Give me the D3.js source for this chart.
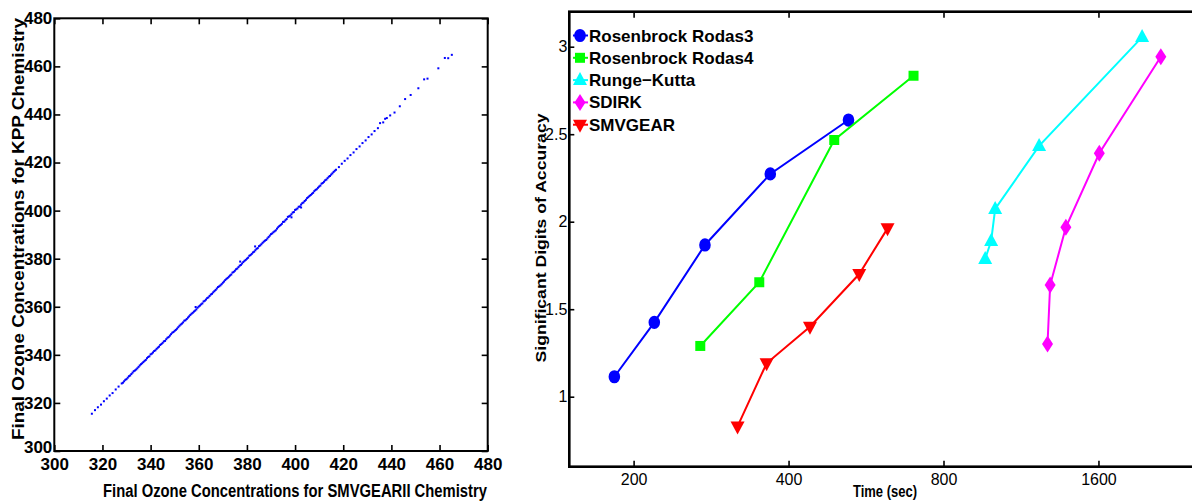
<!DOCTYPE html>
<html>
<head>
<meta charset="utf-8">
<script src="https://cdn.jsdelivr.net/npm/d3@7"></script>
<style>
  body { margin: 0; background: #fff; }
  svg { display: block; }
  .narrow { font-family: "Liberation Sans Narrow", "Arial Narrow", "Liberation Sans", Arial, sans-serif; }
  .wide { font-family: "Liberation Sans", Arial, Helvetica, sans-serif; }
</style>
</head>
<body>
<svg id="chart" width="1192" height="501"></svg>
<script>
// ---- left panel: final ozone, SMVGEARII vs KPP ----
const ozoneTicks = [300, 320, 340, 360, 380, 400, 420, 440, 460, 480];

const smvgearO3 = [
  315.6, 316.9, 318.1, 319.4, 320.6, 321.8, 323.0, 324.2, 325.5, 326.7,
  328, 329, 330, 331, 332, 333, 334, 335, 336, 337,
  338, 339, 340, 341, 342, 343, 344, 345, 346, 347,
  348, 349, 350, 351, 352, 353, 354, 355, 356, 357,
  358, 359, 360, 361, 362, 363, 364, 365, 366, 367,
  368, 369, 370, 371, 372, 373, 374, 375, 376, 377,
  378, 379, 380, 381, 382, 383, 384, 385, 386, 387,
  388, 389, 390, 391, 392, 393, 394, 395, 396, 397,
  398, 399, 400, 401, 402, 403, 404, 405, 406, 407,
  408, 409, 410, 411, 412, 413, 414, 415, 416, 417,
  328.5, 329.5, 330.5, 331.5, 332.5, 333.5, 334.5, 335.5, 336.5, 337.5,
  338.5, 339.5, 340.5, 341.5, 342.5, 343.5, 344.5, 345.5, 346.5, 347.5,
  348.5, 349.5, 350.5, 351.5, 352.5, 353.5, 354.5, 355.5, 356.5, 357.5,
  358.5, 359.5, 360.5, 361.5, 362.5, 363.5, 364.5, 365.5, 366.5, 367.5,
  368.5, 369.5, 370.5, 371.5, 372.5, 373.5, 374.5, 375.5, 376.5, 377.5,
  378.5, 379.5, 380.5, 381.5, 382.5, 383.5, 384.5, 385.5, 386.5, 387.5,
  388.5, 389.5, 390.5, 391.5, 392.5, 393.5, 394.5, 395.5, 396.5, 397.5,
  398.5, 399.5, 400.5, 401.5, 402.5, 403.5, 404.5, 405.5, 406.5, 407.5,
  408.5, 409.5, 410.5, 411.5, 412.5, 413.5, 414.5, 415.5, 416.5,
  418.2, 419.4, 420.6, 421.8, 423.0, 424.3, 425.5, 426.8, 428.0, 429.3,
  430.5, 431.8, 433.0, 434.4, 435.3, 436.6, 437.4, 438.1, 439.5, 441.3,
  443.5, 445.7, 448.0, 451.2, 453.6, 455.0, 459.5, 462.2, 463.6, 465.1,
  377.2, 383.4, 398.5, 402.5, 358.7
];
const kppO3 = [
  315.5, 317.0, 318.2, 319.3, 320.7, 321.8, 323.1, 324.1, 325.6, 326.8,
  328.1, 329.0, 329.9, 331.1, 332.0, 333.2, 333.9, 335.0, 336.1, 337.0,
  337.9, 339.1, 340.2, 341.0, 341.9, 343.0, 344.1, 345.0, 345.8, 347.1,
  348.0, 349.2, 350.0, 350.9, 352.1, 353.0, 354.2, 354.9, 356.0, 357.1,
  358.0, 358.9, 360.1, 361.0, 362.2, 363.0, 363.9, 365.1, 366.0, 367.0,
  368.2, 368.9, 370.0, 371.1, 372.0, 373.0, 374.2, 375.0, 375.9, 377.1,
  378.0, 379.1, 380.0, 381.2, 382.0, 382.9, 384.1, 385.2, 386.0, 387.1,
  387.8, 389.0, 390.2, 391.0, 391.8, 393.1, 394.0, 395.3, 396.0, 397.4,
  397.9, 399.2, 400.3, 400.9, 401.7, 403.1, 404.0, 405.2, 406.1, 407.0,
  408.1, 408.9, 410.0, 411.2, 412.0, 412.9, 414.1, 415.0, 416.1, 417.0,
  328.4, 329.6, 330.5, 331.4, 332.6, 333.5, 334.4, 335.6, 336.5, 337.5,
  338.6, 339.4, 340.5, 341.6, 342.5, 343.4, 344.5, 345.6, 346.5, 347.4,
  348.6, 349.5, 350.4, 351.5, 352.6, 353.5, 354.4, 355.5, 356.6, 357.5,
  358.4, 359.6, 360.5, 361.4, 362.5, 363.6, 364.5, 365.4, 366.5, 367.6,
  368.5, 369.4, 370.5, 371.6, 372.5, 373.4, 374.5, 375.6, 376.5, 377.4,
  378.6, 379.5, 380.4, 381.5, 382.6, 383.5, 384.4, 385.5, 386.6, 387.5,
  388.4, 389.6, 390.5, 391.4, 392.5, 393.6, 394.5, 395.4, 396.5, 397.6,
  398.5, 399.4, 400.5, 401.6, 402.5, 403.4, 404.5, 405.6, 406.5, 407.4,
  408.6, 409.5, 410.4, 411.5, 412.6, 413.5, 414.4, 415.5, 416.6,
  418.1, 419.5, 420.7, 421.7, 423.1, 424.2, 425.6, 426.7, 428.1, 429.2,
  430.6, 431.7, 433.1, 434.3, 436.4, 436.7, 438.2, 438.5, 439.6, 440.8,
  443.4, 446.4, 448.1, 450.9, 454.6, 454.9, 459.2, 463.5, 463.4, 464.8,
  378.8, 385.1, 397.2, 401.3, 359.9
];

// ---- right panel: accuracy vs run time ----
const timeTicks = [200, 400, 800, 1600];
const digitTicks = [1, 1.5, 2, 2.5, 3];
const methods = ['Rosenbrock Rodas3', 'Rosenbrock Rodas4', 'Runge\u2212Kutta', 'SDIRK', 'SMVGEAR'];
const methodColors = ['#0000ff', '#00ff00', '#00ffff', '#ff00ff', '#ff0000'];
const methodMarkers = ['circle', 'square', 'triangleUp', 'diamond', 'triangleDown'];

const rodas3Time = [183.5, 219.4, 275.2, 368.6, 523];
const rodas3Digits = [1.114, 1.425, 1.867, 2.273, 2.581];
const rodas4Time = [269.5, 350.9, 490.7, 699.6];
const rodas4Digits = [1.290, 1.654, 2.467, 2.834];
const rkTime = [964, 990, 1008, 1227, 1945];
const rkDigits = [1.787, 1.890, 2.073, 2.433, 3.055];
const sdirkTime = [1274, 1289, 1383, 1606, 2115];
const sdirkDigits = [1.301, 1.638, 1.968, 2.391, 2.943];
const smvgearTime = [318.4, 362.6, 440.2, 548.8, 622.8];
const smvgearDigits = [0.830, 1.191, 1.400, 1.701, 1.962];

const seriesTime = [rodas3Time, rodas4Time, rkTime, sdirkTime, smvgearTime];
const seriesDigits = [rodas3Digits, rodas4Digits, rkDigits, sdirkDigits, smvgearDigits];

const svg = d3.select('#chart');

// marker shapes, centered on 0,0
function markerPath(kind) {
    switch (kind) {
        case 'circle': return 'M-5.8,0A5.8,6.6 0 1,0 5.8,0A5.8,6.6 0 1,0 -5.8,0Z';
        case 'square': return 'M-5,-5H5V5H-5Z';
        case 'triangleUp': return 'M0,-8L7,5H-7Z';
        case 'triangleDown': return 'M0,8L7,-5H-7Z';
        case 'diamond': return 'M0,-8.5L5.5,0L0,8.5L-5.5,0Z';
    }
}

// ================= left panel =================
const xL = d3.scaleLinear().domain([300, 480]).range([54.3, 487.7]);
const yL = d3.scaleLinear().domain([300, 480]).range([451, 18.3]);

const left = svg.append('g');

left.append('g')
    .attr('transform', `translate(0,${yL(300)})`)
    .call(d3.axisBottom(xL).tickValues(ozoneTicks).tickSizeInner(-6).tickSizeOuter(0).tickPadding(7))
    .call(g => g.select('.domain').remove());
left.append('g')
    .attr('transform', `translate(0,${yL(480)})`)
    .call(d3.axisTop(xL).tickValues(ozoneTicks).tickSizeInner(-6).tickSizeOuter(0).tickFormat(''))
    .call(g => g.select('.domain').remove());
const leftY = left.append('g')
    .attr('transform', `translate(${xL(300)},0)`)
    .call(d3.axisLeft(yL).tickValues(ozoneTicks).tickSizeInner(-6).tickSizeOuter(0).tickPadding(2))
    .call(g => g.select('.domain').remove());
left.append('g')
    .attr('transform', `translate(${xL(480)},0)`)
    .call(d3.axisRight(yL).tickValues(ozoneTicks).tickSizeInner(-6).tickSizeOuter(0).tickFormat(''))
    .call(g => g.select('.domain').remove());

left.selectAll('.tick line').attr('stroke', '#000').attr('stroke-width', 1.6);
left.selectAll('.tick text')
    .attr('class', 'narrow')
    .style('font-size', '17px')
    .style('font-weight', 'bold')
    .attr('fill', '#000');
// the lowest y label sits just above the x labels, as in the figure
leftY.selectAll('.tick text').filter(d => d === 300).attr('dy', '0.1em');

left.append('rect')
    .attr('x', xL(300)).attr('y', yL(480))
    .attr('width', xL(480) - xL(300)).attr('height', yL(300) - yL(480))
    .attr('fill', 'none').attr('stroke', '#000').attr('stroke-width', 2);

left.append('g').selectAll('rect')
    .data(smvgearO3.map((v, i) => [v, kppO3[i]]))
    .enter().append('rect')
    .attr('x', d => xL(d[0]) - 1)
    .attr('y', d => yL(d[1]) - 1)
    .attr('width', 2).attr('height', 2)
    .attr('fill', '#0000ff');

left.append('text')
    .attr('class', 'narrow')
    .attr('x', 295).attr('y', 497)
    .attr('text-anchor', 'middle')
    .attr('textLength', 384).attr('lengthAdjust', 'spacingAndGlyphs')
    .style('font-size', '18px').style('font-weight', 'bold')
    .text('Final Ozone Concentrations for SMVGEARII Chemistry');

left.append('text')
    .attr('class', 'wide')
    .attr('transform', 'translate(24,229) rotate(-90)')
    .attr('text-anchor', 'middle')
    .attr('textLength', 422).attr('lengthAdjust', 'spacingAndGlyphs')
    .style('font-size', '17px').style('font-weight', 'bold')
    .text('Final Ozone Concentrations for KPP Chemistry');

// ================= right panel =================
const xR = d3.scaleLog().base(2).domain([150, 2520]).range([569.3, 1200]);
const yR = d3.scaleLinear().domain([0.6, 3.2]).range([466.7, 11.7]);

const right = svg.append('g');

right.append('g')
    .attr('transform', `translate(0,${yR(0.6)})`)
    .call(d3.axisBottom(xR).tickValues(timeTicks).tickFormat(d3.format('d')).tickSizeInner(-6).tickSizeOuter(0).tickPadding(7))
    .call(g => g.select('.domain').remove());
right.append('g')
    .attr('transform', `translate(0,${yR(3.2)})`)
    .call(d3.axisTop(xR).tickValues(timeTicks).tickSizeInner(-6).tickSizeOuter(0).tickFormat(''))
    .call(g => g.select('.domain').remove());
right.append('g')
    .attr('transform', `translate(${xR(150)},0)`)
    .call(d3.axisLeft(yR).tickValues(digitTicks).tickFormat(d => String(d)).tickSizeInner(-5).tickSizeOuter(0).tickPadding(2))
    .call(g => g.select('.domain').remove());

right.selectAll('.tick line').attr('stroke', '#000').attr('stroke-width', 1.6);
right.selectAll('.tick text')
    .attr('class', 'narrow')
    .style('font-size', '16px')
    .attr('fill', '#000');

right.append('rect')
    .attr('x', xR(150)).attr('y', yR(3.2))
    .attr('width', xR(2520) - xR(150)).attr('height', yR(0.6) - yR(3.2))
    .attr('fill', 'none').attr('stroke', '#000').attr('stroke-width', 2.6);

const line = d3.line().x(d => xR(d[0])).y(d => yR(d[1]));

methods.forEach((name, i) => {
    const pts = seriesTime[i].map((t, j) => [t, seriesDigits[i][j]]);
    const g = right.append('g');
    g.append('path')
        .attr('d', line(pts))
        .attr('fill', 'none')
        .attr('stroke', methodColors[i])
        .attr('stroke-width', 2);
    g.selectAll('path.marker')
        .data(pts)
        .enter().append('path')
        .attr('class', 'marker')
        .attr('transform', d => `translate(${xR(d[0])},${yR(d[1])})`)
        .attr('d', markerPath(methodMarkers[i]))
        .attr('fill', methodColors[i]);
});

// legend
const legend = right.append('g').attr('transform', 'translate(580,35.5)');
methods.forEach((name, i) => {
    const row = legend.append('g').attr('transform', `translate(0,${i * 22.3})`);
    row.append('line')
        .attr('x1', -7).attr('x2', 8)
        .attr('stroke', methodColors[i]).attr('stroke-width', 2);
    row.append('path')
        .attr('d', markerPath(methodMarkers[i]))
        .attr('fill', methodColors[i]);
    row.append('text')
        .attr('class', 'narrow')
        .attr('x', 9).attr('y', 6)
        .style('font-size', '17px').style('font-weight', 'bold')
        .text(name);
});

right.append('text')
    .attr('class', 'narrow')
    .attr('x', 885).attr('y', 497)
    .attr('text-anchor', 'middle')
    .attr('textLength', 64).attr('lengthAdjust', 'spacingAndGlyphs')
    .style('font-size', '16px').style('font-weight', 'bold')
    .text('Time (sec)');

right.append('text')
    .attr('class', 'wide')
    .attr('transform', 'translate(546,238) rotate(-90)')
    .attr('text-anchor', 'middle')
    .attr('textLength', 249).attr('lengthAdjust', 'spacingAndGlyphs')
    .style('font-size', '15px').style('font-weight', 'bold')
    .text('Significant Digits of Accuracy');
</script>
</body>
</html>
